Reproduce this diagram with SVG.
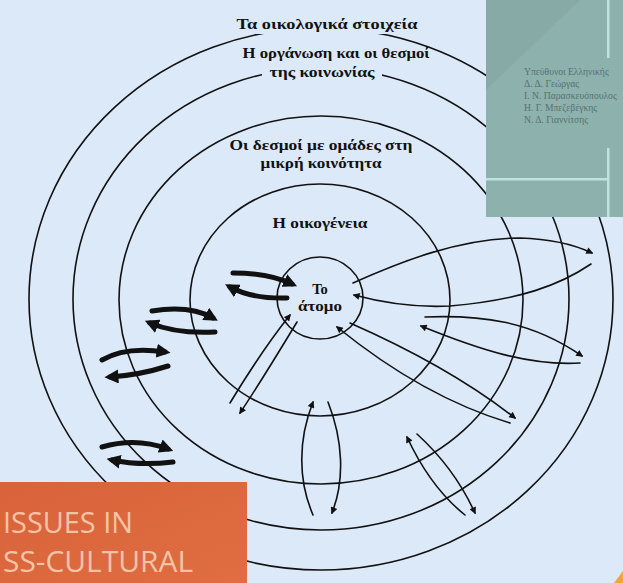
<svg xmlns="http://www.w3.org/2000/svg" width="623" height="583" viewBox="0 0 623 583">
<style>
.ring{fill:none;stroke:#111;stroke-width:1.6}
.lbl{font-family:"Liberation Serif","DejaVu Serif",serif;font-weight:bold;font-size:14.5px;fill:#111;text-anchor:middle}
.thin{fill:none;stroke:#111;stroke-width:1.6;stroke-linecap:round;marker-end:url(#ah)}
.thick{fill:none;stroke:#111;stroke-width:5;stroke-linecap:round;marker-end:url(#ahb)}
.cov{font-family:"Liberation Serif","DejaVu Serif",serif;font-size:9.6px;fill:#55716f}
.iss{font-family:"Open Sans","Liberation Sans",sans-serif;font-size:29px;fill:#f2c4a6}
</style>
<defs>
<marker id="ah" viewBox="0 0 10 10" refX="8" refY="5" markerWidth="9" markerHeight="7" markerUnits="userSpaceOnUse" orient="auto"><path d="M0,0 L10,5 L0,10 z" fill="#111"/></marker>
<marker id="ahb" viewBox="0 0 10 10" refX="6" refY="5" markerWidth="14" markerHeight="14" markerUnits="userSpaceOnUse" orient="auto"><path d="M0,0 L10,5 L0,10 z" fill="#111"/></marker>
<linearGradient id="og" x1="0" y1="0" x2="1" y2="1"><stop offset="0" stop-color="#d9623a"/><stop offset="1" stop-color="#e06e42"/></linearGradient>
</defs>
<rect width="623" height="583" fill="#dbe9f9"/>

<g id="rings">
<ellipse class="ring" cx="321" cy="299" rx="292" ry="271"/>
<ellipse class="ring" cx="321" cy="299" rx="248" ry="231"/>
<ellipse class="ring" cx="321" cy="300" rx="202" ry="184"/>
<ellipse class="ring" cx="320" cy="300" rx="130" ry="116"/>
</g>

<g id="masks" fill="#dbe9f9">
<rect x="256" y="14" width="142" height="20"/>
<rect x="262" y="62" width="120" height="14"/>
</g>

<g id="n-ecology"><text class="lbl" x="327" y="29" textLength="181" lengthAdjust="spacingAndGlyphs">Τα οικολογικά στοιχεία</text></g>
<g id="n-society"><text class="lbl" x="336" y="58" textLength="187" lengthAdjust="spacingAndGlyphs">Η οργάνωση και οι θεσμοί</text>
<text class="lbl" x="322" y="77" textLength="105" lengthAdjust="spacingAndGlyphs">της κοινωνίας</text></g>
<g id="n-community"><text class="lbl" x="321" y="150" textLength="183" lengthAdjust="spacingAndGlyphs">Οι δεσμοί με ομάδες στη</text>
<text class="lbl" x="321" y="168" textLength="121" lengthAdjust="spacingAndGlyphs">μικρή κοινότητα</text></g>
<g id="n-family"><text class="lbl" x="320" y="228" textLength="95" lengthAdjust="spacingAndGlyphs">Η οικογένεια</text></g>
<g id="n-individual"><ellipse class="ring" cx="320" cy="298" rx="43" ry="41"/>
<text class="lbl" x="320" y="294">Το</text>
<text class="lbl" x="320" y="311" textLength="44" lengthAdjust="spacingAndGlyphs">άτομο</text></g>

<g id="connectors">
<path class="thick" d="M233,273 Q268,273 292,284"/>
<path class="thick" d="M287,298 Q252,299 230,287"/>
<path class="thick" d="M152,311 Q190,305 213,318"/>
<path class="thick" d="M215,332 Q176,334 150,323"/>
<path class="thick" d="M102,360 Q126,346 165,352"/>
<path class="thick" d="M168,366 Q140,375 110,377"/>
<path class="thick" d="M102,447 Q136,437 168,449"/>
<path class="thick" d="M173,462 Q140,466 112,460"/>

<path class="thin" d="M353,283 C400,262 460,238 520,238 C555,239 575,245 592,253"/>
<path class="thin" d="M591,264 C560,285 520,300 450,306 C410,308 380,302 354,295"/>
<path class="thin" d="M425,317 C480,315 530,320 582,356"/>
<path class="thin" d="M580,363 C530,366 480,350 421,326"/>
<path class="thin" d="M350,323 C400,345 460,375 515,418"/>
<path class="thin" d="M510,423 C450,405 390,370 337,327"/>
<path class="thin" d="M230,403 C250,370 270,340 290,315"/>
<path class="thin" d="M297,322 C280,350 262,380 240,413"/>
<path class="thin" d="M313,515 C298,480 298,440 313,402"/>
<path class="thin" d="M328,402 C343,440 345,480 332,513"/>
<path class="thin" d="M465,515 C440,495 420,465 407,437"/>
<path class="thin" d="M417,434 C440,455 460,480 475,513"/>
</g>

<g id="cover">
<rect x="486" y="0" width="137" height="217" fill="#8db1ad"/>
<polygon points="486,0 580,0 486,90" fill="#87aaa7"/>
<rect x="607" y="0" width="2.5" height="58" fill="#bfe4df"/>
<rect x="607" y="148" width="2.5" height="69" fill="#bfe4df"/>
<rect x="486" y="178" width="122" height="2.5" fill="#bfe4df"/>
<text class="cov" x="524" y="75">Υπεύθυνοι Ελληνικής</text>
<text class="cov" x="524" y="87">Δ. Δ. Γεώργας</text>
<text class="cov" x="524" y="99">Ι. Ν. Παρασκευόπουλος</text>
<text class="cov" x="524" y="111">Η. Γ. Μπεζεβέγκης</text>
<text class="cov" x="524" y="123">Ν. Δ. Γιαννίτσης</text>
</g>

<g id="book">
<rect x="0" y="482" width="247" height="101" fill="url(#og)"/>
<text class="iss" x="3" y="533" textLength="130" lengthAdjust="spacingAndGlyphs">ISSUES IN</text>
<text class="iss" x="3" y="572" textLength="190" lengthAdjust="spacingAndGlyphs">SS-CULTURAL</text>
</g>
<polygon points="623,571 614,583 623,583" fill="#f0a440"/>
</svg>
